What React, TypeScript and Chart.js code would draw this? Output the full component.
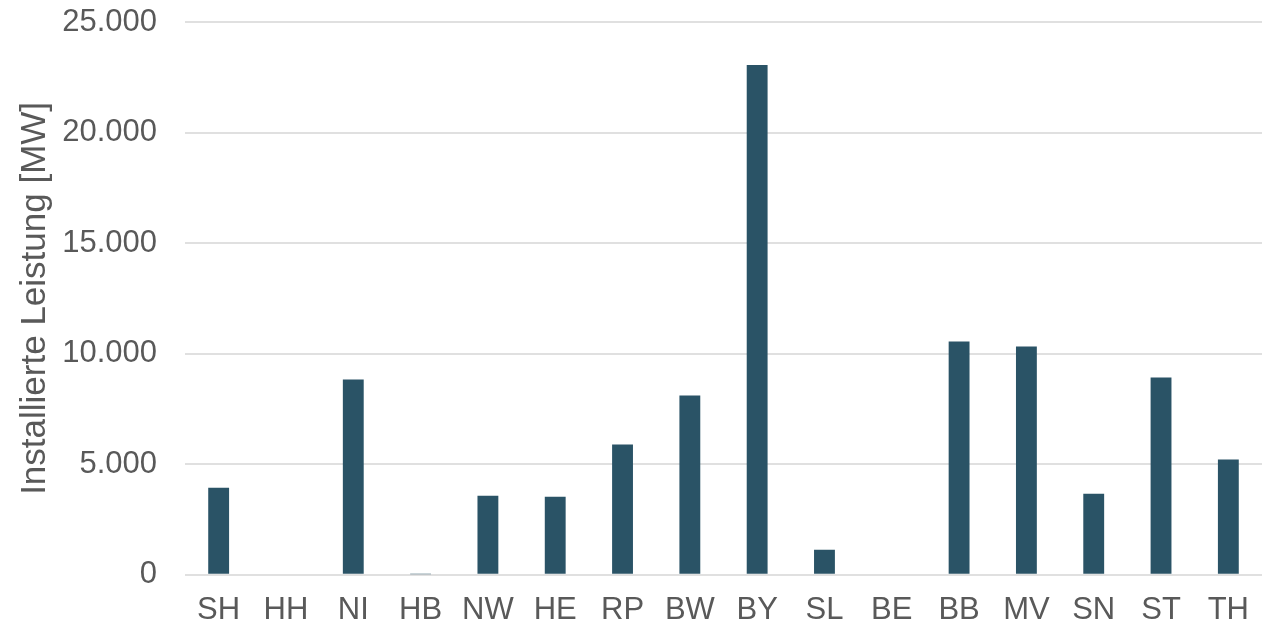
import React, { useEffect, useRef } from "react";
import { Chart, registerables } from "chart.js";

Chart.register(...registerables);

const categories = ["SH", "HH", "NI", "HB", "NW", "HE", "RP", "BW", "BY", "SL", "BE", "BB", "MV", "SN", "ST", "TH"];
const installedMW = [3940, 0, 8830, 20, 3580, 3530, 5890, 8110, 23050, 1130, 0, 10550, 10330, 3670, 8920, 5210];
const yTitle = "Installierte Leistung [MW]";

export default function App() {
  const ref = useRef<HTMLCanvasElement>(null);
  useEffect(() => {
    if (!ref.current) return;
    const font = { family: "'Liberation Sans', Arial, sans-serif", size: 31 };
    const chart = new Chart(ref.current, {
      type: "bar",
      data: {
        labels: categories,
        datasets: [
          {
            data: installedMW,
            backgroundColor: "#2a5366",
            barPercentage: 0.31,
            categoryPercentage: 1,
          },
        ],
      },
      options: {
        animation: false,
        responsive: false,
        maintainAspectRatio: false,
        layout: { padding: { top: 22, right: 4, bottom: 0, left: 14 } },
        plugins: { legend: { display: false }, tooltip: { enabled: false } },
        scales: {
          x: {
            grid: { display: false },
            border: { display: false },
            ticks: { color: "#595959", font, padding: 9, maxRotation: 0, autoSkip: false },
          },
          y: {
            min: 0,
            max: 25000,
            grid: { color: "#e0e0e0", lineWidth: 2, drawTicks: false },
            border: { display: false },
            afterFit: (s: any) => {
              s.width = 171;
              s.paddingTop = 18;
              s.paddingBottom = 18;
            },
            ticks: {
              stepSize: 5000,
              color: "#595959",
              font,
              padding: 28,
              callback: (v: any) => Number(v).toLocaleString("de-DE"),
            },
            title: { display: true, text: yTitle, color: "#595959", font: { ...font, size: 35 }, padding: 0 },
          },
        },
      },
    });
    return () => chart.destroy();
  }, []);
  return (
    <div style={{ position: "fixed", left: 0, top: 0, width: 1266, height: 626, background: "#fff", overflow: "hidden" }}>
      <canvas ref={ref} width={1266} height={638} style={{ width: 1266, height: 638, display: "block" }} />
    </div>
  );
}
